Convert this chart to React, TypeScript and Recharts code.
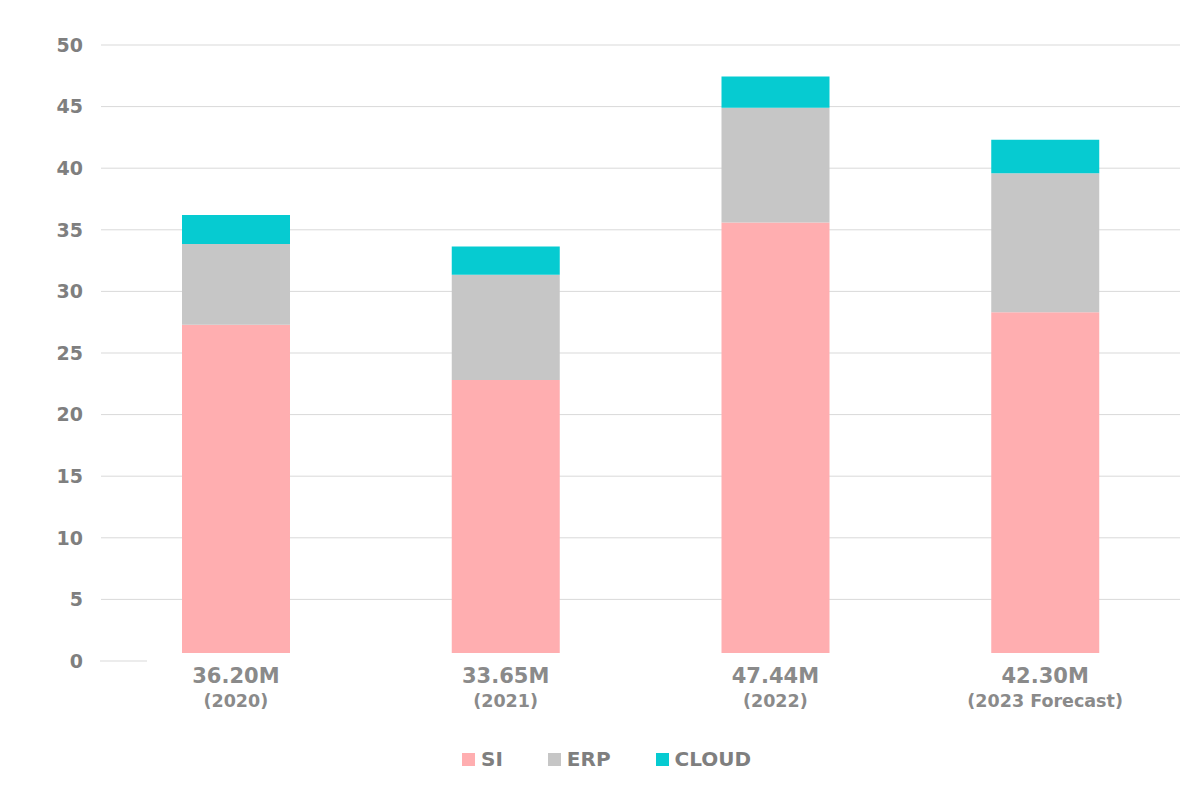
import React from "react";
import { Bar, BarChart, CartesianGrid, Rectangle, XAxis, YAxis } from "recharts";

const years = ["2020", "2021", "2022", "2023 Forecast"];
const totals = ["36.20M", "33.65M", "47.44M", "42.30M"];
const si = [27.3, 22.8, 35.6, 28.3];
const erp = [6.55, 8.55, 9.3, 11.3];
const cloud = [2.35, 2.3, 2.54, 2.7];
const yTicks = [0, 5, 10, 15, 20, 25, 30, 35, 40, 45, 50];

const series = [
  { key: "SI", color: "#ffaeb0", values: si },
  { key: "ERP", color: "#c6c6c6", values: erp },
  { key: "CLOUD", color: "#06cbd1", values: cloud },
];

const data = years.map((year, i) => ({
  year,
  total: totals[i],
  SI: si[i],
  ERP: erp[i],
  CLOUD: cloud[i],
}));

const FONT = "'DejaVu Sans', sans-serif";
const GRID = "#d9d9d9";

function XTick({ x, y, payload, index }: any) {
  return (
    <g fontFamily={FONT} fontWeight={700} fill="#8a8a8a" textAnchor="middle">
      <text x={x} y={y + 22} fontSize={21}>
        {totals[index]}
      </text>
      <text x={x} y={y + 46} fontSize={17.5}>
        ({payload.value})
      </text>
    </g>
  );
}

// the 0 line only shows a short stub left of the first bar
function GridLine(props: any) {
  const { x1, y1, x2, y2, index } = props;
  const stub = y1 > 655;
  return (
    <line
      key={`h-${index}`}
      x1={stub ? 100 : x1}
      y1={y1}
      x2={stub ? 147 : x2}
      y2={y2}
      stroke={GRID}
      strokeWidth={1}
    />
  );
}

// bottom segment stops a little above the baseline, as in the source
function BaseShape(props: any) {
  return <Rectangle {...props} height={Math.max(0, props.height - 8)} />;
}

export default function App() {
  return (
    <div style={{ position: "absolute", left: 0, top: 0, width: 1195, height: 793, background: "#fff" }}>
      <BarChart
        width={1195}
        height={793}
        data={data}
        margin={{ top: 45, right: 15, bottom: 0, left: 1 }}
      >
        <CartesianGrid vertical={false} horizontal={GridLine} />
        <XAxis
          dataKey="year"
          height={132}
          axisLine={false}
          tickLine={false}
          tickSize={0}
          tickMargin={0}
          interval={0}
          tick={<XTick />}
        />
        <YAxis
          width={100}
          domain={[0, 50]}
          ticks={yTicks}
          axisLine={false}
          tickLine={false}
          tickSize={0}
          tickMargin={18}
          tick={{ fill: "#7f7f7f", fontSize: 19, fontWeight: 700, fontFamily: FONT }}
        />
        {series.map((s, i) => (
          <Bar
            key={s.key}
            dataKey={s.key}
            stackId="a"
            fill={s.color}
            barSize={108}
            isAnimationActive={false}
            shape={i === 0 ? BaseShape : undefined}
          />
        ))}
      </BarChart>
      <div
        style={{
          position: "absolute",
          left: 462,
          top: 746,
          display: "flex",
          alignItems: "center",
          gap: 45,
          fontFamily: FONT,
          fontWeight: 700,
          fontSize: 20,
          color: "#7f7f7f",
          height: 26,
        }}
      >
        {series.map((s) => (
          <div key={s.key} style={{ display: "flex", alignItems: "center" }}>
            <span style={{ width: 13, height: 13, background: s.color, marginRight: 6, display: "inline-block" }} />
            <span>{s.key}</span>
          </div>
        ))}
      </div>
    </div>
  );
}
